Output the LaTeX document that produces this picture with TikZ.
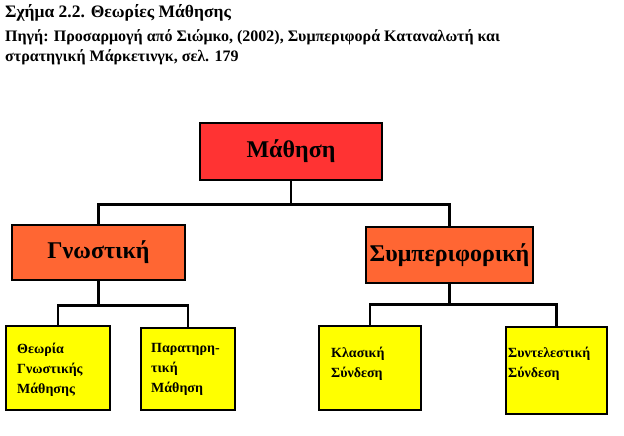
\documentclass[tikz,border=0pt]{standalone}
\usepackage{fontspec}
\setmainfont{Liberation Serif}
\definecolor{cred}{HTML}{FF3333}
\definecolor{corange}{HTML}{FF6633}
\definecolor{cyel}{HTML}{FFFF00}
\begin{document}
\begin{tikzpicture}[x=1pt,y=-1pt,
  box/.style={draw,line width=2.5pt,inner sep=0pt,font=\bfseries},
  big/.style={box,font=\fontsize{24}{26}\selectfont\bfseries},
  lbl/.style={anchor=north west,align=left,inner sep=0pt,font=\fontsize{14}{20}\selectfont\bfseries},
  conn/.style={line width=2.5pt}]
\useasboundingbox (0,0) rectangle (624,436);
\node[anchor=north west,inner sep=0pt,font=\fontsize{17.5}{19}\selectfont\bfseries] (title) at (5,4) {Σχήμα 2.2. Θεωρίες Μάθησης};
\node[anchor=north west,align=left,inner sep=0pt,font=\fontsize{16}{20}\selectfont\bfseries] (src) at (5,29)
  {Πηγή: Προσαρμογή από Σιώμκο, (2002), Συμπεριφορά Καταναλωτή και\\στρατηγική Μάρκετινγκ, σελ. 179};
\node[big,fill=cred,minimum width=182,minimum height=57] (m) at (291,151.5) {Μάθηση};
\node[big,fill=corange,minimum width=173,minimum height=55] (g) at (98.5,252.5) {Γνωστική};
\node[big,fill=corange,minimum width=167,minimum height=56] (s) at (449.5,255) {Συμπεριφορική};
\node[box,fill=cyel,minimum width=104,minimum height=84] (a) at (58,368) {};
\node[box,fill=cyel,minimum width=94,minimum height=82] (b) at (188,369) {};
\node[box,fill=cyel,minimum width=102,minimum height=84] (c) at (370,368) {};
\node[box,fill=cyel,minimum width=101,minimum height=87] (d) at (556.5,370.5) {};
\node[lbl] (ta) at (17,343) {Θεωρία\\Γνωστικής\\Μάθησης};
\node[lbl] (tb) at (151,343) {Παρατηρη-\\τική\\Μάθηση};
\node[lbl] (tc) at (331,347) {Κλασική\\Σύνδεση};
\node[lbl] (td) at (508,347) {Συντελεστική\\Σύνδεση};
\draw[conn] (m.south) -- ++(0,23) -| (g.north);
\draw[conn] (m.south) ++(0,23) -| (s.north);
\draw[conn] (g.south) -- ++(0,24) -| (a.north);
\draw[conn] (g.south) ++(0,24) -| (b.north);
\draw[conn] (s.south) -- ++(0,20) -| (c.north);
\draw[conn] (s.south) ++(0,20) -| (d.north);
\end{tikzpicture}
\end{document}
